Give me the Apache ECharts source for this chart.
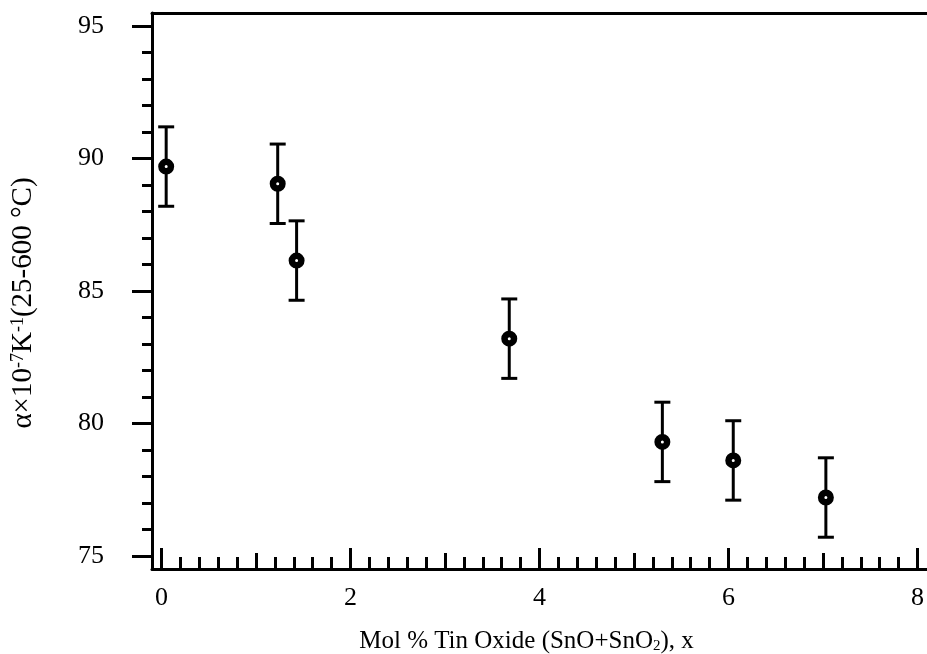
<!DOCTYPE html>
<html>
<head>
<meta charset="utf-8">
<script src="https://cdn.jsdelivr.net/npm/echarts@6/dist/echarts.min.js"></script>
<style>
  html, body { margin: 0; padding: 0; background: #fff; }
  #chart { width: 927px; height: 654px; }
</style>
</head>
<body>
<div id="chart"></div>
<script>
// data
var molPct = [0.05, 1.23, 1.43, 3.68, 5.3, 6.05, 7.03];
var alpha = [89.7, 89.05, 86.15, 83.2, 79.3, 78.6, 77.2];
var alphaErr = [1.5, 1.5, 1.5, 1.5, 1.5, 1.5, 1.5];

// tick values
var xMajor = [0, 2, 4, 6, 8];
var xMid = [1, 3, 5, 7];
var xMinor = [0.2, 0.4, 0.6, 0.8, 1.2, 1.4, 1.6, 1.8, 2.2, 2.4, 2.6, 2.8,
  3.2, 3.4, 3.6, 3.8, 4.2, 4.4, 4.6, 4.8, 5.2, 5.4, 5.6, 5.8,
  6.2, 6.4, 6.6, 6.8, 7.2, 7.4, 7.6, 7.8];
var yMajor = [75, 80, 85, 90, 95];
var yMinor = [76, 77, 78, 79, 81, 82, 83, 84, 86, 87, 88, 89, 91, 92, 93, 94];

var font = "'Liberation Serif', 'Times New Roman', serif";
var xMin = -0.1, xMax = 8.1, yMin = 74.5, yMax = 95.5;

var myChart = echarts.init(document.getElementById("chart"));

function xAxisWith(ticks, len, main) {
  return {
    type: "value",
    position: "bottom",
    min: xMin,
    max: xMax,
    splitLine: { show: false },
    axisLine: { show: main, onZero: false, lineStyle: { color: "#000", width: 3 } },
    axisTick: {
      show: true, inside: true, length: len, customValues: ticks,
      lineStyle: { color: "#000", width: 3 }
    },
    axisLabel: main ? {
      show: true, customValues: xMajor, margin: 16,
      color: "#000", fontFamily: font, fontSize: 26
    } : { show: false },
    name: main ? "{t|Mol % Tin Oxide (SnO+SnO}{s|2}{t|), x}" : "",
    nameLocation: "middle",
    nameGap: 60,
    nameTextStyle: {
      padding: [0, 26, 0, 0],
      rich: {
        t: { fontFamily: font, fontSize: 25, color: "#000" },
        s: { fontFamily: font, fontSize: 15, color: "#000", verticalAlign: "bottom", padding: [10, 0, 0, 0] }
      }
    }
  };
}

function yAxisWith(ticks, len, main) {
  return {
    type: "value",
    position: "left",
    min: yMin,
    max: yMax,
    splitLine: { show: false },
    axisLine: { show: main, onZero: false, lineStyle: { color: "#000", width: 3 } },
    axisTick: {
      show: true, inside: false, length: len, customValues: ticks,
      lineStyle: { color: "#000", width: 3 }
    },
    axisLabel: main ? {
      show: true, customValues: yMajor, margin: 48,
      color: "#000", fontFamily: font, fontSize: 26
    } : { show: false },
    name: main ? "{t|α×10}{u|-7}{t|K}{u|-1}{t|(25-600 °C)}" : "",
    nameLocation: "middle",
    nameGap: 114,
    nameRotate: 90,
    nameTextStyle: {
      padding: [0, 24, 0, 0],
      rich: {
        t: { fontFamily: font, fontSize: 29, color: "#000" },
        u: { fontFamily: font, fontSize: 18, color: "#000", verticalAlign: "top", padding: [0, 0, 11, 0] }
      }
    }
  };
}

var option = {
  backgroundColor: "#fff",
  animation: false,
  grid: { left: 152, right: 0, top: 13, bottom: 85, containLabel: false, outerBoundsMode: "none" },
  xAxis: [
    xAxisWith(xMajor, 21, true),
    xAxisWith(xMid, 16, false),
    xAxisWith(xMinor, 12, false),
    {
      type: "value", position: "top", min: xMin, max: xMax,
      splitLine: { show: false }, axisTick: { show: false }, axisLabel: { show: false },
      axisLine: { show: true, onZero: false, lineStyle: { color: "#000", width: 3 } }
    }
  ],
  yAxis: [
    yAxisWith(yMajor, 20, true),
    yAxisWith(yMinor, 10, false)
  ],
  series: [
    {
      type: "custom",
      renderItem: function (params, api) {
        var x = api.value(0), lo = api.value(1), hi = api.value(2);
        var top = api.coord([x, hi]);
        var bot = api.coord([x, lo]);
        var cap = 8;
        var style = { stroke: "#000", lineWidth: 3 };
        return {
          type: "group",
          children: [
            { type: "line", shape: { x1: top[0], y1: top[1], x2: bot[0], y2: bot[1] }, style: style },
            { type: "line", shape: { x1: top[0] - cap, y1: top[1], x2: top[0] + cap, y2: top[1] }, style: style },
            { type: "line", shape: { x1: bot[0] - cap, y1: bot[1], x2: bot[0] + cap, y2: bot[1] }, style: style }
          ]
        };
      },
      data: molPct.map(function (x, i) {
        return [x, alpha[i] - alphaErr[i], alpha[i] + alphaErr[i]];
      }),
      z: 2
    },
    {
      type: "scatter",
      symbol: "circle",
      symbolSize: 9.5,
      itemStyle: { color: "#fff", borderColor: "#000", borderWidth: 6.5, opacity: 1 },
      data: molPct.map(function (x, i) { return [x, alpha[i]]; }),
      z: 3
    }
  ]
};

myChart.setOption(option);
window.addEventListener("resize", function () {
  myChart.resize();
});
</script>
</body>
</html>
